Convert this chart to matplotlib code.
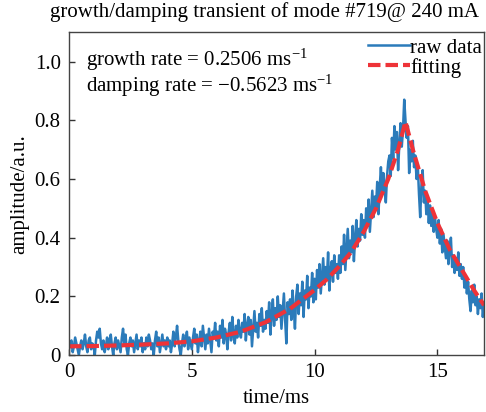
import numpy as np
import matplotlib
matplotlib.use("Agg")
import matplotlib.pyplot as plt

plt.rcParams['font.family'] = ['Liberation Serif', 'DejaVu Serif']
plt.rcParams['mathtext.fontset'] = 'custom'
plt.rcParams['mathtext.rm'] = 'Liberation Serif'
plt.rcParams['mathtext.it'] = 'Liberation Serif:italic'

# raw data sampled every 0.05 ms from 0.00 to 16.95 ms
raw_step = 0.05
raw_amp = [
    0.02, 0.04, 0.05, 0.01, 0.03, 0.06, 0.04, 0.02, 0.00, 0.03, 0.05, 0.02, 0.04, 0.07, 0.03, 0.01, 0.05, 0.06, 0.02, 0.04,
    0.03, 0.00, 0.05, 0.08, 0.06, 0.09, 0.04, 0.02, 0.05, 0.01, 0.03, 0.06, 0.02, 0.05, 0.07, 0.03, 0.00, 0.04, 0.06, 0.02,
    0.05, 0.03, 0.01, 0.06, 0.09, 0.04, 0.07, 0.02, 0.00, 0.04, 0.06, 0.03, 0.05, 0.01, 0.04, 0.07, 0.02, 0.05, 0.03, 0.06,
    0.01, 0.04, 0.02, 0.06, 0.03, 0.07, 0.05, 0.02, 0.04, 0.00, 0.05, 0.08, 0.03, 0.06, 0.01, 0.04, 0.07, 0.03, 0.05, 0.02,
    0.06, 0.03, 0.05, 0.01, 0.04, 0.08, 0.03, 0.06, 0.10, 0.05, 0.02, 0.00, 0.04, 0.07, 0.03, 0.05, 0.08, 0.02, 0.06, 0.04,
    0.02, 0.06, 0.09, 0.04, 0.07, 0.01, 0.05, 0.08, 0.03, 0.10, 0.06, 0.02, 0.07, 0.04, 0.09, 0.05, 0.01, 0.08, 0.06, 0.11,
    0.05, 0.08, 0.03, 0.10, 0.06, 0.12, 0.04, 0.09, 0.07, 0.02, 0.08, 0.11, 0.05, 0.13, 0.07, 0.04, 0.10, 0.06, 0.12, 0.08,
    0.06, 0.11, 0.08, 0.14, 0.05, 0.10, 0.13, 0.07, 0.12, 0.03, 0.09, 0.15, 0.08, 0.11, 0.06, 0.14, 0.10, 0.16, 0.08, 0.12,
    0.09, 0.15, 0.11, 0.18, 0.07, 0.14, 0.19, 0.10, 0.16, 0.12, 0.20, 0.13, 0.17, 0.09, 0.15, 0.21, 0.12, 0.04, 0.18, 0.14,
    0.19, 0.12, 0.22, 0.16, 0.09, 0.20, 0.24, 0.14, 0.21, 0.17, 0.25, 0.13, 0.22, 0.19, 0.27, 0.16, 0.23, 0.20, 0.28, 0.18,
    0.26, 0.19, 0.29, 0.23, 0.31, 0.21, 0.27, 0.33, 0.24, 0.30, 0.26, 0.35, 0.22, 0.29, 0.32, 0.25, 0.34, 0.28, 0.31, 0.26,
    0.34, 0.28, 0.37, 0.31, 0.41, 0.29, 0.36, 0.43, 0.33, 0.39, 0.35, 0.44, 0.32, 0.40, 0.46, 0.37, 0.43, 0.39, 0.48, 0.41,
    0.46, 0.40, 0.50, 0.44, 0.53, 0.42, 0.49, 0.56, 0.47, 0.54, 0.50, 0.59, 0.48, 0.57, 0.64, 0.55, 0.62, 0.58, 0.52, 0.61,
    0.66, 0.68, 0.61, 0.74, 0.67, 0.78, 0.70, 0.76, 0.63, 0.72, 0.79, 0.71, 0.77, 0.87, 0.80, 0.74, 0.78, 0.62, 0.70, 0.66,
    0.73, 0.64, 0.68, 0.60, 0.65, 0.55, 0.47, 0.58, 0.63, 0.52, 0.56, 0.48, 0.53, 0.45, 0.51, 0.44, 0.49, 0.42, 0.47, 0.43,
    0.40, 0.46, 0.38, 0.43, 0.35, 0.41, 0.37, 0.33, 0.39, 0.31, 0.36, 0.40, 0.30, 0.34, 0.28, 0.33, 0.29, 0.35, 0.27, 0.31,
    0.26, 0.30, 0.23, 0.27, 0.21, 0.25, 0.19, 0.15, 0.22, 0.18, 0.24, 0.17, 0.20, 0.14, 0.19, 0.16, 0.21, 0.13, 0.18, 0.16,
]
raw_time = np.arange(len(raw_amp)) * raw_step

fit_time = [0, 1, 2, 3, 4, 5, 6, 7, 8, 9, 10, 10.5, 11, 11.5, 12, 12.5,
            13, 13.4, 13.7, 14, 14.5, 15, 15.5, 16, 16.5, 16.9]
fit_amp = [0.030, 0.031, 0.033, 0.036, 0.040, 0.047, 0.060, 0.080, 0.112,
           0.158, 0.222, 0.258, 0.302, 0.352, 0.420, 0.500, 0.600, 0.700,
           0.795, 0.700, 0.560, 0.450, 0.360, 0.290, 0.220, 0.170]

title = "growth/damping transient of mode #719@ 240 mA"
note = ("growth rate = 0.2506 ms$^{\u22121}$\n"
        "damping rate = \u22120.5623 ms$^{\u22121}$")

fig = plt.figure(figsize=(4.86, 4.12), dpi=100)
ax = fig.add_axes([0.142, 0.138, 0.854, 0.784])

ax.plot(raw_time, raw_amp, color='#2b7bba', lw=1.8, label='raw data')
ax.plot(fit_time, fit_amp, color='#ee3338', lw=3.0, dashes=(3, 1.2),
        label='fitting')

ax.set_xlim(0, 16.9)
ax.set_ylim(0, 1.1)
ax.set_xticks([0, 5, 10, 15])
ax.set_xticklabels(['0', '5', '10', '15'])
ax.set_yticks([0, 0.2, 0.4, 0.6, 0.8, 1.0])
ax.set_yticklabels(['0', '0.2', '0.4', '0.6', '0.8', '1.0'])
ax.tick_params(direction='in', labelsize=15, color='#333333', length=4,
               width=1, pad=6)
for s in ax.spines.values():
    s.set_color('#444444')
    s.set_linewidth(1.0)

ax.set_xlabel('time/ms', fontsize=15, labelpad=5)
ax.set_ylabel('amplitude/a.u.', fontsize=15, labelpad=4)
fig.text(0.545, 0.995, title, fontsize=15, ha='center', va='top')

ax.text(0.041, 0.955, note, transform=ax.transAxes, fontsize=15,
        va='top', ha='left', linespacing=1.0)

leg = ax.legend(loc='upper right', frameon=False, fontsize=15,
                handlelength=2.0, handletextpad=0.0, borderaxespad=0.0,
                borderpad=0.1, labelspacing=0.0,
                bbox_to_anchor=(1.0, 0.988))

fig.savefig('out.png', dpi=100)
